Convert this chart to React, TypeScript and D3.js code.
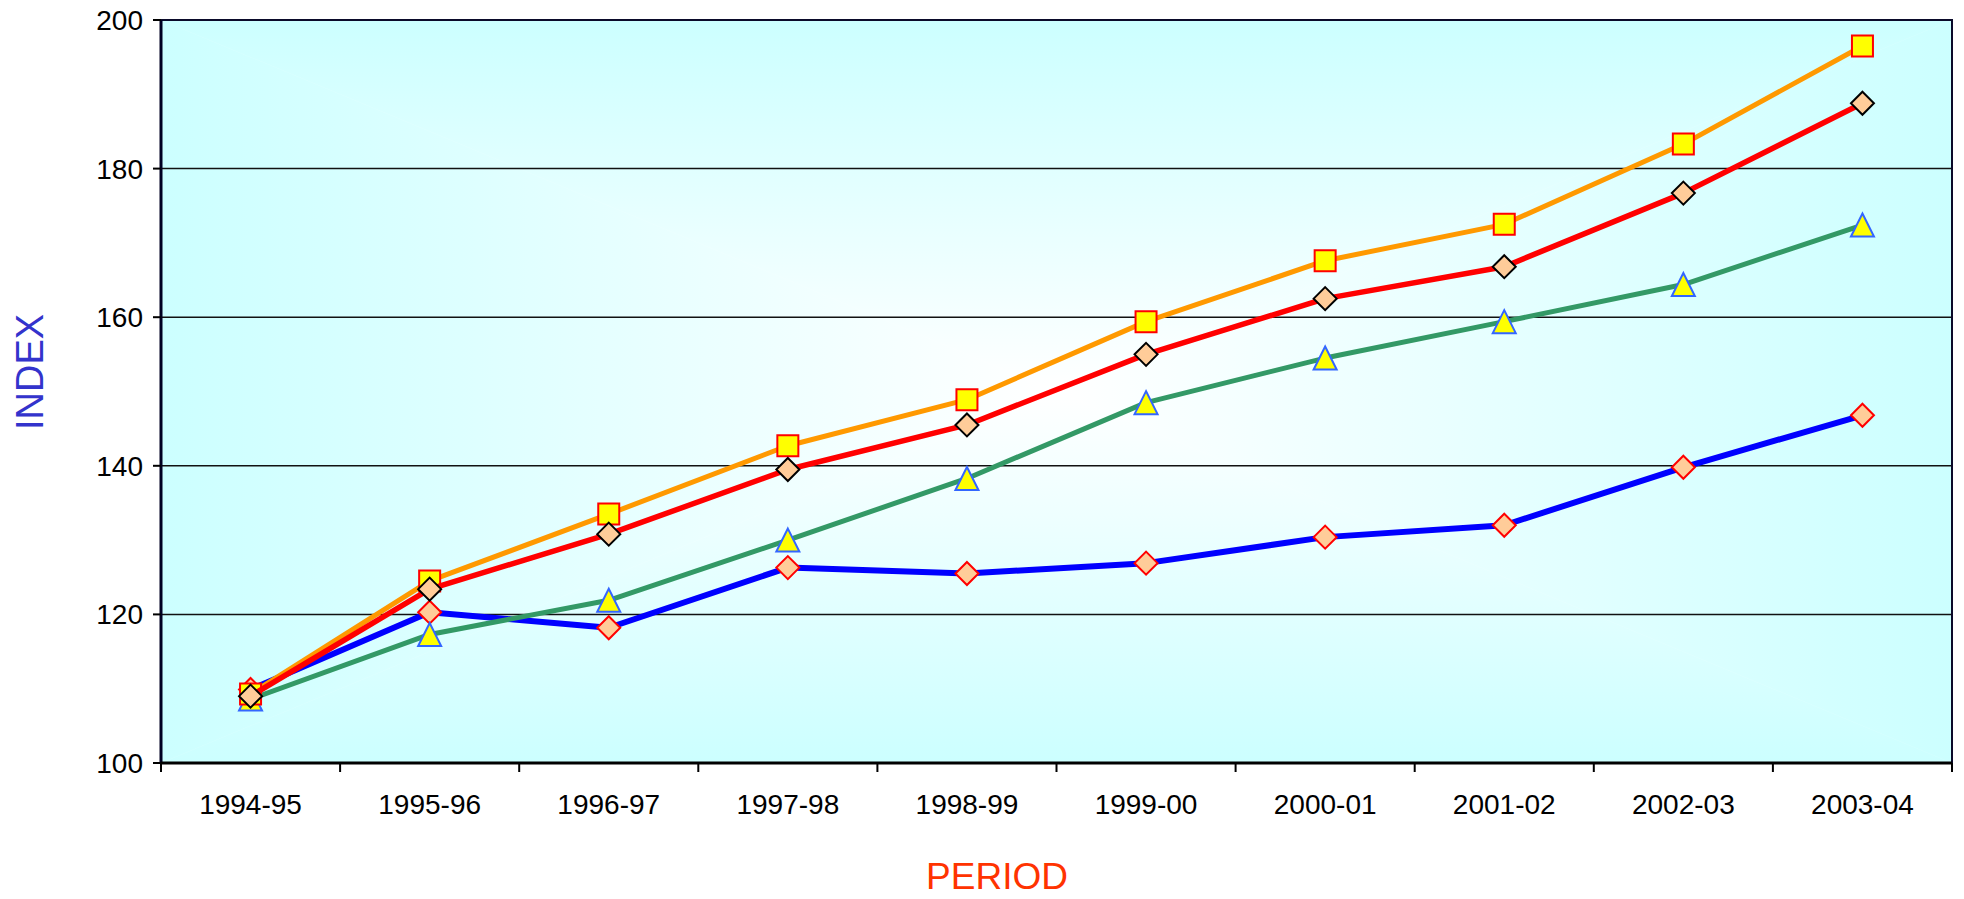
import React from "react";
import * as d3 from "d3";

const periods = ["1994-95", "1995-96", "1996-97", "1997-98", "1998-99", "1999-00", "2000-01", "2001-02", "2002-03", "2003-04"];

// series values
const orangeSquares = [109.3, 124.5, 133.5, 142.7, 148.9, 159.4, 167.6, 172.5, 183.3, 196.5];
const redDiamonds = [109.0, 123.4, 130.8, 139.5, 145.5, 155.0, 162.5, 166.8, 176.7, 188.8];
const greenTriangles = [108.6, 117.3, 121.9, 130.0, 138.3, 148.5, 154.5, 159.4, 164.4, 172.4];
const blueDiamonds = [109.9, 120.3, 118.2, 126.3, 125.5, 126.9, 130.4, 132.0, 139.8, 146.8];

const yTicks = [100, 120, 140, 160, 180, 200];

const W = 1964;
const H = 899;
const left = 161;
const right = 1952;
const top = 20;
const bottom = 763;

const x = d3.scaleBand<string>().domain(periods).range([left, right]).padding(0);
const y = d3.scaleLinear().domain([100, 200]).range([bottom, top]);

const squarePath = "M-10.5,-10.5H10.5V10.5H-10.5Z";
const diamondPath = "M0,-11.5L11.5,0L0,11.5L-11.5,0Z";
const trianglePath = "M0,-11.5L11.5,11.5L-11.5,11.5Z";

// drawing order as in the original (last on top)
const series = [
  { name: "blue", values: blueDiamonds, line: "#0000ff", width: 6, marker: diamondPath, fill: "#ffcc99", stroke: "#ff0000" },
  { name: "green", values: greenTriangles, line: "#339966", width: 5, marker: trianglePath, fill: "#ffff00", stroke: "#3366ff" },
  { name: "orange", values: orangeSquares, line: "#ff9900", width: 5, marker: squarePath, fill: "#ffff00", stroke: "#ff0000" },
  { name: "red", values: redDiamonds, line: "#ff0000", width: 5.5, marker: diamondPath, fill: "#ffcc99", stroke: "#000000" },
];

const font = "'Liberation Sans', Arial, sans-serif";

export default function App() {
  const cx = (left + right) / 2;
  const cy = (top + bottom) / 2;
  const bw = x.bandwidth();
  const lineGen = d3
    .line<number>()
    .x((_, i) => (x(periods[i]) as number) + bw / 2)
    .y((d) => y(d));

  // rectangular "from centre" gradient built out of four triangles
  const quads = [
    { id: "gTop", pts: `${left},${top} ${right},${top} ${cx},${cy}`, x2: cx, y2: top },
    { id: "gBottom", pts: `${left},${bottom} ${right},${bottom} ${cx},${cy}`, x2: cx, y2: bottom },
    { id: "gLeft", pts: `${left},${top} ${left},${bottom} ${cx},${cy}`, x2: left, y2: cy },
    { id: "gRight", pts: `${right},${top} ${right},${bottom} ${cx},${cy}`, x2: right, y2: cy },
  ];

  const edges = d3.range(periods.length + 1).map((i) => left + i * bw);

  return (
    <svg width={W} height={H} style={{ position: "absolute", left: 0, top: 0, background: "#fff" }} fontFamily={font}>
      <defs>
        {quads.map((q) => (
          <linearGradient key={q.id} id={q.id} gradientUnits="userSpaceOnUse" x1={cx} y1={cy} x2={q.x2} y2={q.y2}>
            <stop offset="0" stopColor="#ffffff" />
            <stop offset="1" stopColor="#ccffff" />
          </linearGradient>
        ))}
      </defs>

      {quads.map((q) => (
        <polygon key={q.id} points={q.pts} fill={`url(#${q.id})`} stroke={`url(#${q.id})`} strokeWidth={0.5} />
      ))}

      {/* gridlines */}
      {yTicks.slice(1, -1).map((t) => (
        <line key={t} x1={left} x2={right} y1={y(t)} y2={y(t)} stroke="#111" strokeWidth={1.5} />
      ))}

      {/* frame */}
      <rect x={left} y={top} width={right - left} height={bottom - top} fill="none" stroke="#0a0a2a" strokeWidth={2} />
      <line x1={left} x2={left} y1={top} y2={bottom} stroke="#000022" strokeWidth={3} />
      <line x1={left} x2={right} y1={bottom} y2={bottom} stroke="#000" strokeWidth={3} />

      {/* y axis */}
      {yTicks.map((t) => (
        <g key={t}>
          <line x1={left - 8} x2={left} y1={y(t)} y2={y(t)} stroke="#000" strokeWidth={2} />
          <text x={143} y={y(t)} dy="0.36em" textAnchor="end" fontSize={28} fill="#000">
            {t}
          </text>
        </g>
      ))}

      {/* x axis */}
      {edges.map((e, i) => (
        <line key={i} x1={e} x2={e} y1={bottom} y2={bottom + 9} stroke="#000" strokeWidth={2} />
      ))}
      {periods.map((p) => (
        <text key={p} x={(x(p) as number) + bw / 2} y={814} textAnchor="middle" fontSize={28} fill="#000">
          {p}
        </text>
      ))}

      {/* series */}
      {series.map((s) => (
        <g key={s.name}>
          <path d={lineGen(s.values) as string} fill="none" stroke={s.line} strokeWidth={s.width} strokeLinejoin="round" />
          {s.values.map((v, i) => (
            <path
              key={i}
              d={s.marker}
              transform={`translate(${(x(periods[i]) as number) + bw / 2},${y(v)})`}
              fill={s.fill}
              stroke={s.stroke}
              strokeWidth={2}
            />
          ))}
        </g>
      ))}

      {/* axis titles */}
      <text x={997} y={889} textAnchor="middle" fontSize={37} fill="#ff3300">
        PERIOD
      </text>
      <text transform="translate(43,372) rotate(-90)" textAnchor="middle" fontSize={38} fill="#3333cc">
        INDEX
      </text>
    </svg>
  );
}
